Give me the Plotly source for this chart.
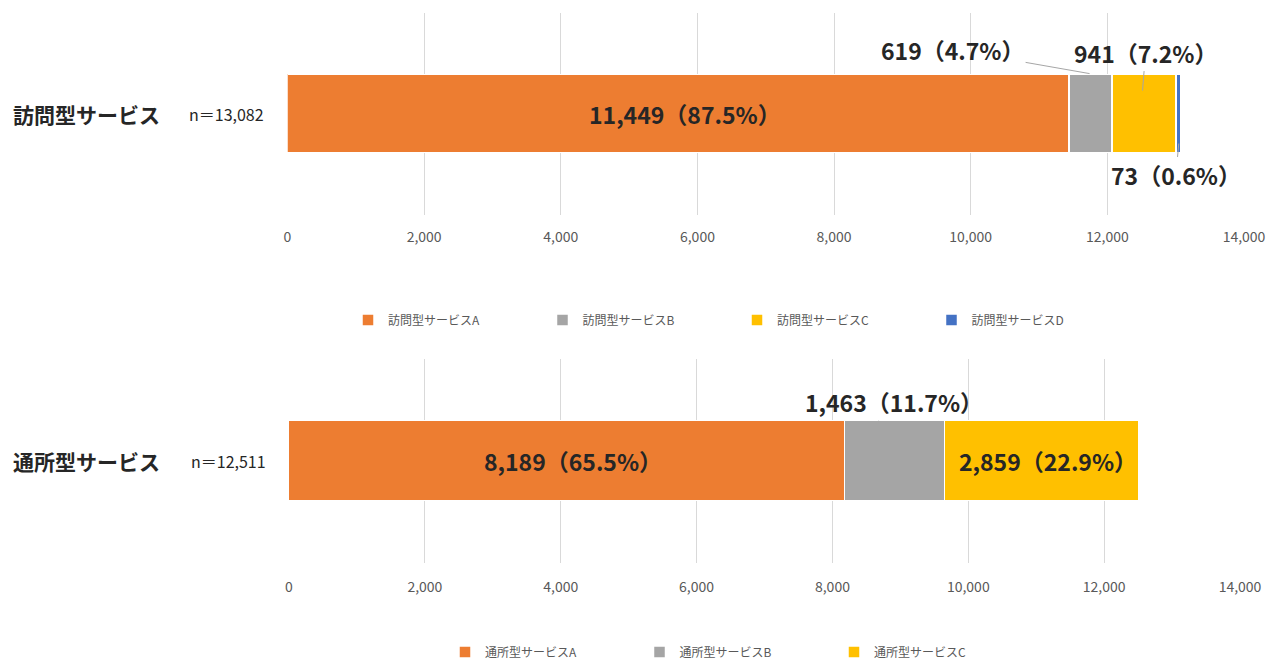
import plotly.graph_objects as go

# ---------------- data ----------------
top_category = "訪問型サービス"
top_n_label = "n＝13,082"
top_series = ["訪問型サービスA", "訪問型サービスB", "訪問型サービスC", "訪問型サービスD"]
top_values = [11449, 619, 941, 73]
top_total = 13082

bottom_category = "通所型サービス"
bottom_n_label = "n＝12,511"
bottom_series = ["通所型サービスA", "通所型サービスB", "通所型サービスC"]
bottom_values = [8189, 1463, 2859]
bottom_total = 12511

tick_values = [0, 2000, 4000, 6000, 8000, 10000, 12000, 14000]
tick_labels = ["0", "2,000", "4,000", "6,000", "8,000", "10,000", "12,000", "14,000"]

# ---------------- style ----------------
colors = ["#ED7D31", "#A5A5A5", "#FFC000", "#4472C4"]
FONT = "Noto Sans CJK JP, Noto Sans, sans-serif"
W, H = 1272, 661


def fx(X):  # reference pixel x -> paper fraction
    return X / W


def fy(Y):  # reference pixel y -> paper fraction
    return 1 - Y / H


# label placement per segment: None = centred inside, else (ax, ay, y_offset) callout
top_callouts = [None, (-137, -24, 0.2), (3, -38, 0.116), (-3, 32, -0.146)]
bottom_callouts = [None, (16, -19, 0.195), None]
top_point_x = [None, 11740, 12515, None]  # None -> segment centre
bottom_point_x = [None, 8671, None]
LABEL_SIZE = 23

fig = go.Figure()


def add_block(cat, series, values, total, xa, ya, legend, callouts, point_x):
    annotations = []
    cum = 0
    for i, (name, v) in enumerate(zip(series, values)):
        fig.add_trace(go.Bar(
            x=[v], y=[cat], orientation="h", name=name,
            marker=dict(color=colors[i], line=dict(color="white", width=1.5)),
            width=0.39, xaxis=xa, yaxis=ya, legend=legend,
            hoverinfo="skip",
        ))
        pct = v / total * 100
        label = f"<b>{v:,}（{pct:.1f}%）</b>"
        centre = cum + v / 2
        cum += v
        co = callouts[i]
        if co is None:
            annotations.append(dict(
                x=centre, y=0, xref=xa, yref=ya, text=label, showarrow=False,
                xshift=6,
                font=dict(size=LABEL_SIZE, color="#262626", family=FONT)))
        else:
            ax, ay, yoff = co
            px = point_x[i] if point_x[i] is not None else centre
            annotations.append(dict(
                x=px, y=yoff, xref=xa, yref=ya, text=label, showarrow=True,
                arrowhead=0, arrowwidth=1, arrowcolor="#A6A6A6", ax=ax, ay=ay,
                standoff=0, startstandoff=0,
                font=dict(size=LABEL_SIZE, color="#262626", family=FONT)))
    return annotations


ann = []
ann += add_block(top_category, top_series, top_values, top_total, "x", "y", "legend",
                 top_callouts, top_point_x)
ann += add_block(bottom_category, bottom_series, bottom_values, bottom_total, "x2", "y2",
                 "legend2", bottom_callouts, bottom_point_x)

# category + n labels
for cat, nlab, ya, cx, nx in [(top_category, top_n_label, "y", 86, 227),
                              (bottom_category, bottom_n_label, "y2", 86, 229)]:
    ann.append(dict(x=fx(cx), y=0, xref="paper", yref=ya, xanchor="center",
                    text=f"<b>{cat}</b>", showarrow=False,
                    font=dict(size=21, color="#262626", family=FONT)))
    ann.append(dict(x=fx(nx), y=0, xref="paper", yref=ya, xanchor="center",
                    text=nlab, showarrow=False,
                    font=dict(size=16, color="#262626", family=FONT)))

xaxis_common = dict(
    range=[0, 14000], tickvals=tick_values, ticktext=tick_labels,
    showgrid=True, gridcolor="#D9D9D9", gridwidth=1, zeroline=False,
    showline=False, ticks="", tickfont=dict(size=14, color="#595959", family=FONT),
    fixedrange=True,
)
yaxis_common = dict(range=[-0.5, 0.5], showticklabels=False, showgrid=False,
                    zeroline=False, showline=False, ticks="", fixedrange=True)

legend_common = dict(orientation="h", xanchor="center", yanchor="middle",
                     traceorder="normal", bgcolor="rgba(0,0,0,0)",
                     font=dict(size=12, color="#595959", family=FONT),
                     entrywidth=149.5, entrywidthmode="pixels")

fig.update_layout(
    width=W, height=H, margin=dict(l=0, r=0, t=0, b=0, autoexpand=False),
    paper_bgcolor="white", plot_bgcolor="white",
    barmode="stack", bargap=0,
    font=dict(family=FONT),
    xaxis=dict(domain=[fx(287.5), fx(1244)], anchor="y", ticklabelstandoff=12, **xaxis_common),
    yaxis=dict(domain=[fy(215), fy(13)], anchor="x", **yaxis_common),
    xaxis2=dict(domain=[fx(289), fx(1240)], anchor="y2", ticklabelstandoff=14, **xaxis_common),
    yaxis2=dict(domain=[fy(563), fy(359)], anchor="x2", **yaxis_common),
    legend=dict(x=fx(737), y=fy(320), **legend_common),
    legend2=dict(x=fx(737), y=fy(652), **legend_common),
    annotations=ann,
    showlegend=True,
)

# remove the default 8px page margin so the figure fills the window exactly
fig.write_html("out.html", config={"displayModeBar": False},
               post_script="document.body.style.margin='0';")
